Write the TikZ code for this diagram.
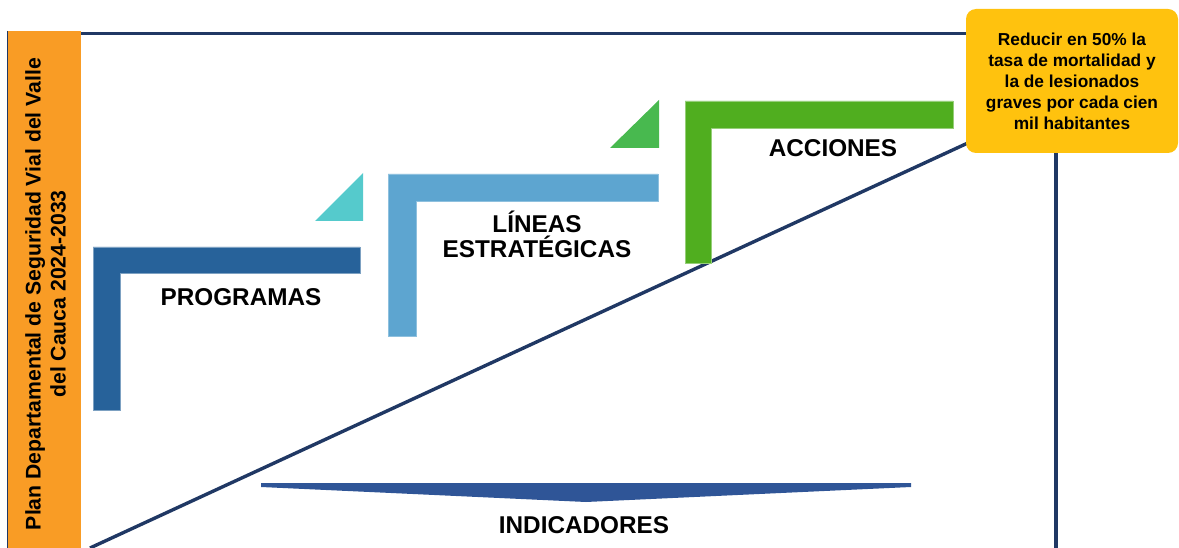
\documentclass[tikz,border=0pt]{standalone}
\usepackage{fontspec}
\setmainfont{Liberation Sans}
\definecolor{orangebar}{HTML}{F99C25}
\definecolor{navy}{HTML}{203864}
\definecolor{darkblueL}{HTML}{27629A}
\definecolor{lightblueL}{HTML}{5DA5D0}
\definecolor{cyantri}{HTML}{55CACC}
\definecolor{greentri}{HTML}{48B94F}
\definecolor{greenL}{HTML}{50AE1F}
\definecolor{yellowbox}{HTML}{FFC20E}
\definecolor{arrowblue}{HTML}{2F5597}
\tikzset{
  frameline/.style={draw=navy, line width=3.4pt},
  lshape/.style={line width=0.8pt},
  label/.style={font=\bfseries\fontsize{24.3}{25}\selectfont, align=center, inner sep=0pt},
}
\begin{document}
\begin{tikzpicture}[x=1pt,y=-1pt]
\useasboundingbox (0,0) rectangle (1179,548);
% frame
\draw[frameline] (81,33.5) -- (968,33.5);
\draw[frameline] (1056,150) -- (1056,548);
\draw[navy, line width=1.2pt] (7.5,31) -- (7.5,548);
% orange bar
\fill[orangebar] (8,31) rectangle (81,548);
\node[rotate=90, font=\bfseries\fontsize{21.2}{25}\selectfont, align=center, inner sep=0pt] (title) at (45.5,294) {Plan Departamental de Seguridad Vial del Valle\\del Cauca 2024-2033};
% diagonal
\coordinate (dstart) at (90,548);
\coordinate (dend) at (970,142);
\draw[frameline] (dstart) -- (dend);
% L shapes
\filldraw[lshape, fill=darkblueL, draw=darkblueL!60!white] (93,247) -- (360,247) -- (360,273) -- (120,273) -- (120,410) -- (93,410) -- cycle;
\filldraw[lshape, fill=lightblueL, draw=lightblueL!70!white] (388,174) -- (658,174) -- (658,201) -- (416,201) -- (416,336) -- (388,336) -- cycle;
\filldraw[lshape, fill=greenL, draw=greenL!60!white] (685,101) -- (953,101) -- (953,128) -- (711,128) -- (711,263) -- (685,263) -- cycle;
% triangles
\fill[cyantri] (315,221) -- (363,221) -- (363,173) -- cycle;
\fill[greentri] (610,148) -- (659,148) -- (659,100) -- cycle;
% labels
\node[label] (prog) at (241,297) {PROGRAMAS};
\node[label] (lin) at (537,234.5) {LÍNEAS\\ESTRATÉGICAS};
\node[label] (acc) at (833,148) {ACCIONES};
% indicadores arrow
\fill[arrowblue] (261,483) -- (911,483) -- (911,487) -- (586,502) -- (261,487) -- cycle;
\node[label] (ind) at (584,525) {INDICADORES};
% yellow goal box
\node[fill=yellowbox, rounded corners=10pt, minimum width=212pt, minimum height=144pt, inner sep=0pt,
      font=\bfseries\fontsize{17.3}{21}\selectfont, align=center] (goal) at (1072,81)
      {Reducir en 50\% la\\tasa de mortalidad y\\la de lesionados\\graves por cada cien\\mil habitantes};
\end{tikzpicture}
\end{document}
